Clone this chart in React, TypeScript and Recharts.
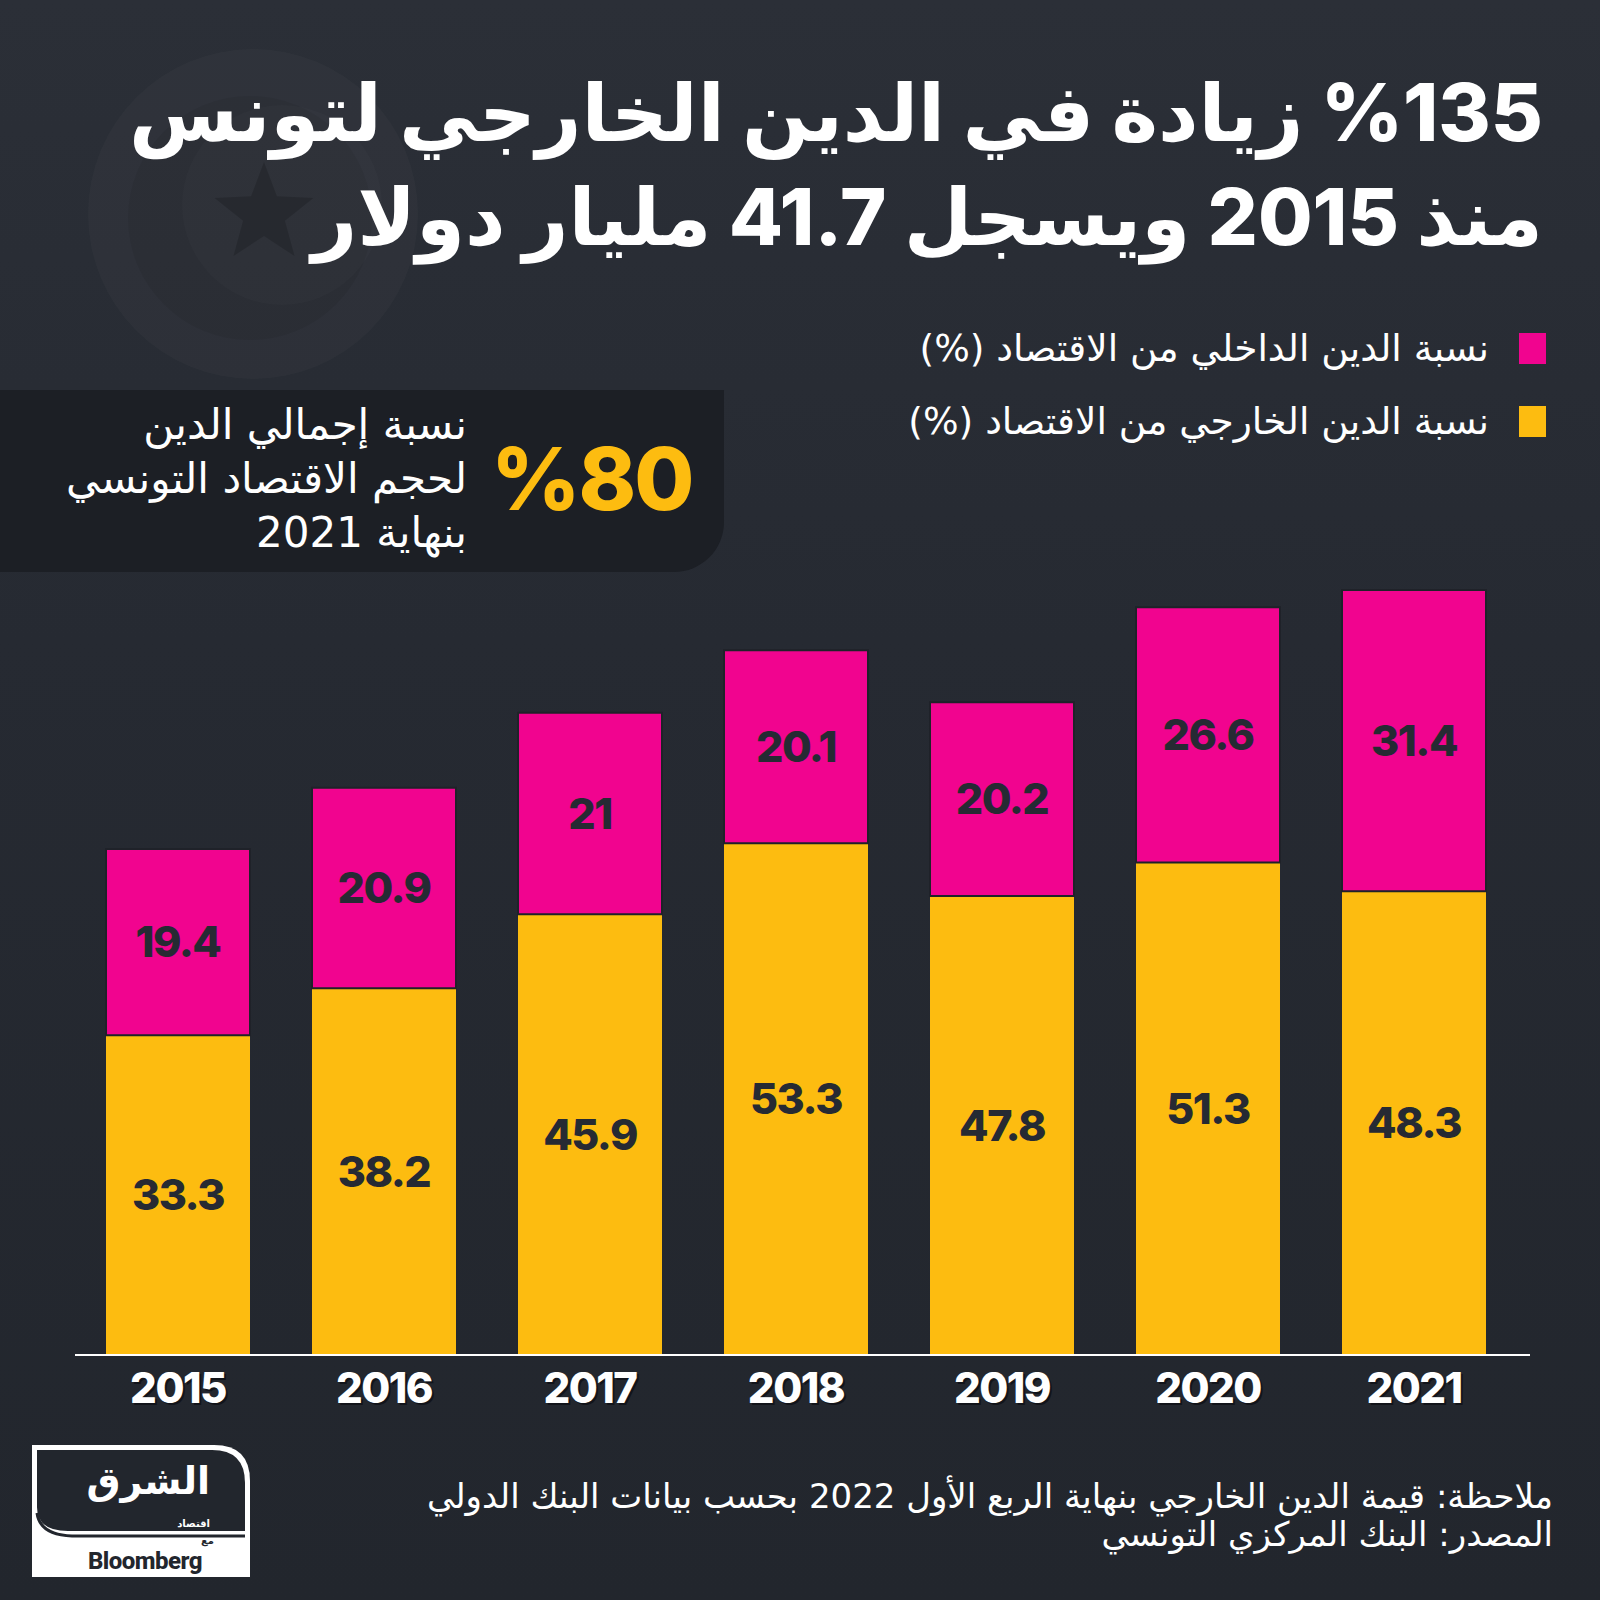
import React from 'react';
import { BarChart, Bar, XAxis, YAxis, LabelList } from 'recharts';

// values (% of GDP)
const years = ['2015', '2016', '2017', '2018', '2019', '2020', '2021'];
const externalDebt = [33.3, 38.2, 45.9, 53.3, 47.8, 51.3, 48.3];
const domesticDebt = [19.4, 20.9, 21, 20.1, 20.2, 26.6, 31.4];

const titleLead = '%135';
const titleLines = ['زيادة في الدين الخارجي لتونس', 'منذ 2015 ويسجل 41.7 مليار دولار'];
const legendItems = [
  { label: 'نسبة الدين الداخلي من الاقتصاد (%)', color: '#F1048F' },
  { label: 'نسبة الدين الخارجي من الاقتصاد (%)', color: '#FDBC10' },
];
const calloutValue = '%80';
const calloutLines = ['نسبة إجمالي الدين', 'لحجم الاقتصاد التونسي', 'بنهاية 2021'];
const footnotes = [
  'ملاحظة: قيمة الدين الخارجي بنهاية الربع الأول 2022 بحسب بيانات البنك الدولي',
  'المصدر: البنك المركزي التونسي',
];

const PINK = '#F1048F';
const YELLOW = '#FDBC10';
const INK = '#262A33';
const ARABIC = "'DejaVu Sans', sans-serif";
const NUM = "Inter, 'DejaVu Sans', sans-serif";

const data = years.map((year, i) => ({
  year,
  external: externalDebt[i],
  domestic: domesticDebt[i],
}));

const YearTick = (props: any) => {
  const { x, y, payload } = props;
  const common = {
    textAnchor: 'middle' as const,
    fontSize: 42,
    fontWeight: 800,
    fontFamily: NUM,
    letterSpacing: -1.5,
  };
  return (
    <g>
      <text x={x + 2} y={y + 50} fill="#12141a" {...common}>
        {payload.value}
      </text>
      <text x={x} y={y + 48} fill="#ffffff" {...common}>
        {payload.value}
      </text>
    </g>
  );
};

const labelStyle = {
  fill: INK,
  fontSize: 43,
  fontWeight: 800,
  fontFamily: NUM,
  letterSpacing: -1.5,
};

function Watermark() {
  const star = [];
  for (let i = 0; i < 10; i++) {
    const r = i % 2 === 0 ? 52 : 22;
    const a = -Math.PI / 2 + (i * Math.PI) / 5;
    star.push(`${264 + r * Math.cos(a)},${214 + r * Math.sin(a)}`);
  }
  return (
    <svg width={600} height={600} style={{ position: 'absolute', left: 0, top: 0 }}>
      <circle cx={253} cy={214} r={165} fill="rgba(255,255,255,0.025)" />
      <circle cx={250} cy={218} r={122} fill="rgba(0,0,0,0.06)" />
      <circle cx={282} cy={205} r={100} fill="rgba(255,255,255,0.015)" />
      <polygon points={star.join(' ')} fill="rgba(0,0,0,0.16)" />
    </svg>
  );
}

function Logo() {
  return (
    <svg width={230} height={140} style={{ position: 'absolute', left: 28, top: 1441 }}>
      <path d="M4 4 H186 Q222 4 222 40 V136 H4 Z" fill="#ffffff" />
      <path d="M9 9 H184 Q217 9 217 42 V90 H40 Q9 90 9 66 Z" fill="#22262d" />
      <path d="M9 72 Q12 94 44 95 H217" fill="none" stroke="#22262d" strokeWidth={3} />
      <text x={182} y={53} textAnchor="end" fill="#ffffff" fontSize={38} fontWeight={800} fontFamily={ARABIC}>
        الشرق
      </text>
      <text x={182} y={86} textAnchor="end" fill="#ffffff" fontSize={10} fontWeight={700} fontFamily={ARABIC}>
        اقتصاد
      </text>
      <text x={186} y={103} textAnchor="end" fill="#22262d" fontSize={10} fontWeight={700} fontFamily={ARABIC}>
        مع
      </text>
      <text x={117} y={128} textAnchor="middle" fill="#22262d" fontSize={24} fontWeight={800} fontFamily="Roboto, Arial" letterSpacing={-0.5}>
        Bloomberg
      </text>
    </svg>
  );
}

export default function App() {
  return (
    <div
      style={{
        position: 'absolute',
        left: 0,
        top: 0,
        width: 1600,
        height: 1600,
        overflow: 'hidden',
        background: 'linear-gradient(180deg, #2b2f37 0%, #262a32 40%, #22262d 100%)',
        fontFamily: ARABIC,
      }}
    >
      <Watermark />

      {titleLines.map((line, i) => (
        <div
          key={i}
          dir="rtl"
          style={{
            position: 'absolute',
            right: 57,
            top: 67 + i * 104,
            fontSize: 79,
            lineHeight: '90px',
            fontWeight: 800,
            color: '#ffffff',
            fontFamily: NUM,
            whiteSpace: 'nowrap',
            letterSpacing: -1,
          }}
        >
          {i === 0 && (
            <span dir="ltr" style={{ unicodeBidi: 'isolate', fontSize: 80 }}>
              {titleLead}
            </span>
          )}
          {i === 0 ? ' ' : ''}
          {line}
        </div>
      ))}

      {legendItems.map((item, i) => (
        <div
          key={i}
          dir="rtl"
          style={{
            position: 'absolute',
            right: 54,
            top: 326 + i * 73,
            height: 44,
            display: 'flex',
            alignItems: 'center',
            gap: 30,
            color: '#ffffff',
            fontSize: 37.5,
            whiteSpace: 'nowrap',
          }}
        >
          <span style={{ width: 27, height: 31, background: item.color, display: 'inline-block' }} />
          <span>{item.label}</span>
        </div>
      ))}

      <div
        style={{
          position: 'absolute',
          left: 0,
          top: 390,
          width: 724,
          height: 182,
          background: '#1c1f25',
          borderBottomRightRadius: 50,
        }}
      >
        <div
          style={{
            position: 'absolute',
            left: 491,
            top: 35,
            fontSize: 87,
            lineHeight: '108px',
            fontWeight: 800,
            color: YELLOW,
            fontFamily: NUM,
            letterSpacing: -2,
          }}
        >
          {calloutValue}
        </div>
        <div
          dir="rtl"
          style={{
            position: 'absolute',
            right: 724 - 467,
            top: 8,
            fontSize: 42,
            lineHeight: '54px',
            color: '#ffffff',
            whiteSpace: 'nowrap',
            textAlign: 'right',
          }}
        >
          {calloutLines.map((l, i) => (
            <div key={i}>{l}</div>
          ))}
        </div>
      </div>

      <div style={{ position: 'absolute', left: 0, top: 0 }}>
        <BarChart
          width={1600}
          height={1600}
          data={data}
          margin={{ top: 587, right: 70, bottom: 185, left: 75 }}
          barSize={144}
        >
          <XAxis
            dataKey="year"
            height={60}
            tickLine={false}
            tickSize={0}
            tickMargin={0}
            axisLine={{ stroke: '#ffffff', strokeWidth: 2 }}
            tick={<YearTick />}
            padding={{ left: 0, right: 13 }}
            interval={0}
          />
          <YAxis hide width={0} domain={[0, 80]} />
          <Bar dataKey="external" stackId="debt" fill={YELLOW} isAnimationActive={false}>
            <LabelList dataKey="external" position="center" style={labelStyle} />
          </Bar>
          <Bar
            dataKey="domestic"
            stackId="debt"
            fill={PINK}
            stroke="#1f2229"
            strokeWidth={2}
            isAnimationActive={false}
          >
            <LabelList dataKey="domestic" position="center" style={labelStyle} />
          </Bar>
        </BarChart>
      </div>

      <div
        dir="rtl"
        style={{
          position: 'absolute',
          right: 47,
          top: 1477,
          fontSize: 34,
          lineHeight: '38px',
          color: '#ffffff',
          whiteSpace: 'nowrap',
          textAlign: 'right',
        }}
      >
        {footnotes.map((l, i) => (
          <div key={i}>{l}</div>
        ))}
      </div>

      <Logo />
    </div>
  );
}
